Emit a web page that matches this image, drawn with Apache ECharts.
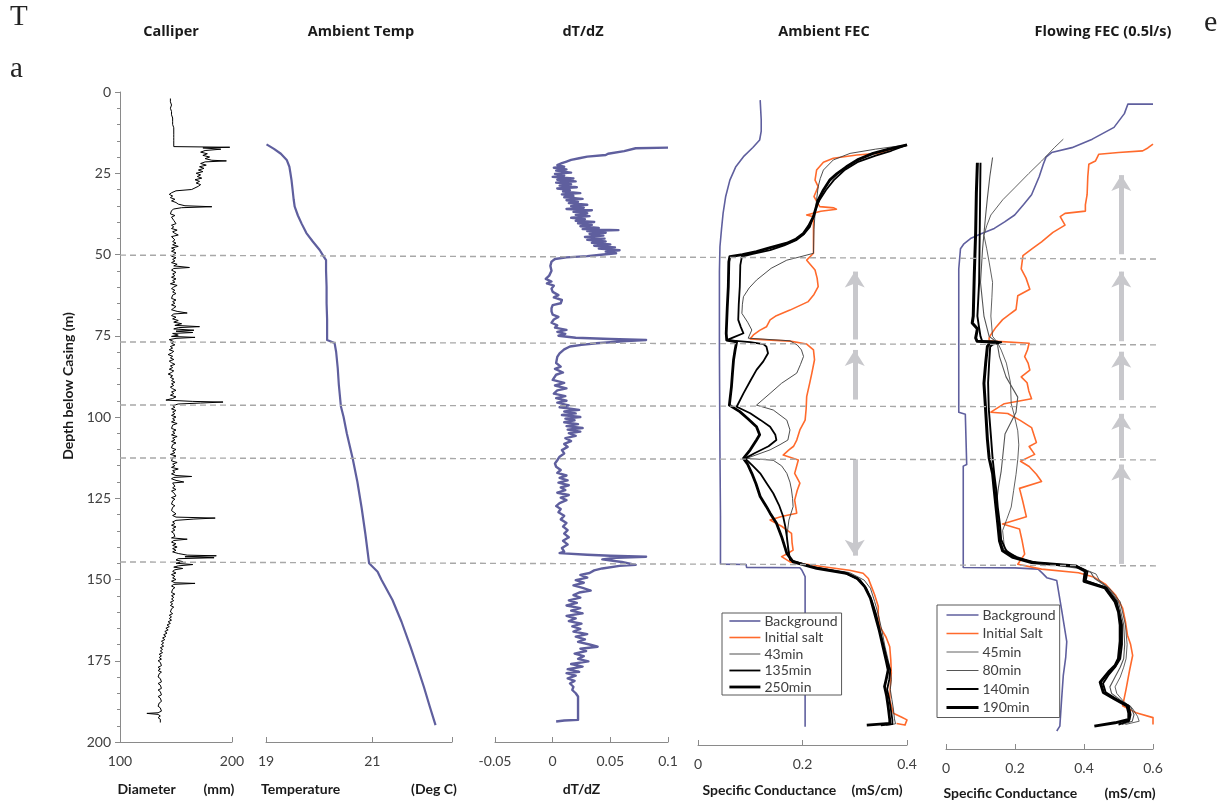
<!DOCTYPE html>
<html>
<head>
<meta charset="utf-8">
<title>Borehole logs</title>
<script src="https://cdn.jsdelivr.net/npm/echarts@6/dist/echarts.min.js"></script>
<style>
  html, body { margin: 0; padding: 0; background: #ffffff; }
  #chart { width: 1227px; height: 805px; }
</style>
</head>
<body>
<div id="chart"></div>
<script>
// ---- Log data: [depth (m), value] pairs ----
const calliper = [
[2,145],[3,145],[4,146],[5,145],[6,146],[7,146],[8,147],[9,147],[10,147],[11,148],[12,148],[13,148],[14,148],[15,148],[16,148],[16.8,148],[17.0,198],[17.2,174],[17.6,190],[18.0,176],[18.5,172],[19.0,178],[19.5,174],[20.0,180],[20.5,176],[21.0,182],[21.2,195],[21.5,176],[22.0,172],[22.5,177],[23.0,171],[23.5,175],[24.0,170],[24.5,174],[25.0,168],[25.5,172],[26.0,169],[26.5,173],[27.0,167],[27.5,171],[28.0,168],[28.5,172],[29.0,170],[29.5,171],[30.0,164],[30.4,150],[31.0,146],[31.5,144],[32.0,147],[32.5,145],[33.0,149],[33.5,146],[34.0,150],[34.5,152],[35.0,158],[35.3,182],[35.6,155],[36.0,148],[36.5,146],[37.0,147],[37.5,145],[38.0,149],[38.5,146],[39.0,145],[39.5,148],[40.0,147],[40.5,150],[41.0,146],[41.5,148],[42.0,146],[42.5,151],[43.0,147],[43.5,149],[44.0,152],[44.5,146],[45.0,145],[45.5,149],[46.0,147],[46.5,150],[47.0,147],[47.5,152],[48.0,146],[48.5,149],[49.0,146],[49.5,150],[50.0,148],[50.5,146],[51.0,150],[51.5,147],[52.0,149],[52.5,146],[53.0,151],[53.5,148],[54.0,162],[54.3,148],[54.8,146],[55.5,150],[56.0,147],[56.5,149],[57.0,146],[57.5,150],[58.0,147],[58.5,149],[59.0,145],[59.5,151],[60.0,148],[60.5,146],[61.0,149],[61.5,147],[62.0,150],[62.5,147],[63.0,148],[63.5,146],[64.0,150],[64.5,147],[65.0,149],[65.5,146],[66.0,150],[66.5,148],[67.0,146],[67.5,151],[68.0,160],[68.3,148],[68.8,146],[69.3,150],[69.8,147],[70.3,152],[70.8,148],[71.3,155],[71.8,149],[72.2,171],[72.5,152],[72.9,148],[73.3,166],[73.6,150],[74.0,165],[74.3,147],[74.8,152],[75.2,146],[75.5,167],[75.8,150],[76.2,144],[76.8,148],[77.3,146],[77.8,149],[78.3,145],[78.8,147],[79.3,144],[79.8,148],[80.3,146],[80.8,143],[81.3,147],[81.8,145],[82.3,148],[82.8,144],[83.3,146],[83.8,149],[84.3,145],[84.8,147],[85.3,144],[85.8,148],[86.3,146],[86.8,143],[87.3,147],[87.8,145],[88.3,148],[88.8,146],[89.3,149],[89.8,146],[90.3,148],[90.8,145],[91.3,147],[91.8,150],[92.3,146],[92.8,148],[93.3,145],[93.8,150],[94.3,147],[94.8,141],[95.2,165],[95.4,192],[95.7,172],[96.0,152],[96.5,147],[97.0,149],[97.5,146],[98.0,150],[98.5,147],[99.0,149],[99.5,146],[100.0,150],[100.5,147],[101.0,149],[101.5,146],[102.0,151],[102.5,147],[103.0,148],[103.5,146],[104.0,150],[104.5,147],[105.0,149],[105.5,146],[106.0,151],[106.5,147],[107.0,149],[107.5,146],[108.0,150],[108.5,147],[109.0,148],[109.5,146],[110.0,150],[110.5,147],[111.0,149],[111.5,145],[112.0,150],[112.5,147],[113.0,148],[113.5,146],[114.0,151],[114.5,147],[115.0,149],[115.5,146],[116.0,152],[116.5,147],[117.0,149],[117.5,146],[118.0,150],[118.3,164],[118.6,148],[119.0,146],[119.5,150],[120.0,157],[120.3,147],[120.8,146],[121.3,149],[121.8,147],[122.3,150],[122.8,146],[123.3,148],[123.8,147],[124.3,150],[124.8,146],[125.3,149],[125.8,147],[126.3,148],[126.8,146],[127.3,149],[127.8,147],[128.3,148],[128.8,146],[129.3,147],[129.8,150],[130.3,147],[130.8,150],[131.1,185],[131.4,166],[131.8,150],[132.3,147],[132.8,149],[133.3,146],[133.8,150],[134.3,147],[134.8,149],[135.3,146],[135.8,148],[136.3,147],[136.8,149],[137.2,146],[137.6,160],[138.0,148],[138.5,146],[139.0,150],[139.5,147],[140.0,151],[140.5,147],[141.0,150],[141.5,147],[142.0,152],[142.5,160],[142.7,186],[143.0,158],[143.3,184],[143.6,152],[144.0,150],[144.5,156],[145.0,150],[145.4,165],[145.8,152],[146.2,148],[146.6,156],[147.0,149],[147.5,147],[148.0,150],[148.5,146],[149.0,149],[149.5,147],[150.0,150],[150.5,146],[151.0,149],[151.2,167],[151.5,148],[152.0,146],[152.5,149],[153.0,147],[153.5,148],[154.0,146],[154.5,149],[155.0,146],[155.5,148],[156.0,146],[156.5,148],[157.0,145],[157.5,147],[158.0,145],[158.5,148],[159.0,146],[159.5,147],[160.0,145],[160.5,147],[161.0,144],[161.5,146],[162.0,144],[162.5,146],[163.0,143],[163.5,145],[164.0,142],[164.5,144],[165.0,141],[165.5,143],[166.0,140],[166.5,142],[167.0,139],[167.5,141],[168.0,138],[168.5,140],[169.0,137],[169.5,139],[170.0,137],[170.5,139],[171.0,136],[171.5,138],[172.0,136],[172.5,138],[173.0,135],[173.5,137],[174.0,135],[174.5,137],[175.0,134],[175.5,136],[176.0,135],[176.5,137],[177.0,134],[177.5,136],[178.0,134],[178.5,137],[179.0,135],[179.5,136],[180.0,134],[180.5,136],[181.0,135],[181.5,137],[182.0,134],[182.5,136],[183.0,135],[183.5,137],[184.0,134],[184.5,136],[185.0,135],[185.5,137],[186.0,134],[186.5,136],[187.0,135],[187.5,137],[188.0,135],[188.5,136],[189.0,134],[189.5,136],[190.0,135],[190.5,137],[191.0,134],[191.2,124],[191.5,134],[192.0,136],[192.5,134],[193.0,136],[193.5,135],[194.0,136]
];

const ambientTemp = [
[16.1,19.01],[17.5,19.15],[19,19.28],[20.9,19.39],[23,19.44],[25,19.46],[27.1,19.48],[30,19.50],[33,19.52],[35.3,19.54],[38,19.60],[40.5,19.67],[43.4,19.76],[46,19.88],[48.6,20.01],[50.5,20.08],[51.7,20.13],[55,20.13],[60,20.14],[65,20.14],[70,20.15],[76.3,20.15],[77.2,20.29],[80,20.32],[85,20.35],[90,20.37],[96.8,20.41],[100,20.46],[105,20.52],[112.7,20.63],[120,20.72],[128,20.80],[136,20.87],[145,20.94],[147.6,21.10],[150,21.17],[156.3,21.38],[163,21.55],[170.7,21.72],[177,21.85],[183,21.97],[189,22.08],[194.8,22.19]
];

const dTdZ = [
[17.1,0.100],[17.3,0.072],[17.8,0.071],[18.2,0.062],[18.7,0.061],[19.0,0.048],[19.4,0.046],[19.9,0.030],[20.4,0.023],[20.9,0.016],[21.4,0.012],[21.9,0.008],[22.5,0.004],[23.0,0.010],[23.3,0.001],[23.8,0.012],[24.2,0.003],[24.8,0.016],[25.2,0.002],[25.7,0.010],[26.1,0.000],[26.6,0.018],[27.0,0.004],[27.5,0.020],[27.9,0.003],[28.4,0.016],[28.8,0.006],[29.3,0.021],[29.7,0.004],[30.2,0.015],[30.6,0.009],[31.1,0.024],[31.5,0.008],[32.0,0.018],[32.4,0.010],[32.9,0.026],[33.3,0.012],[33.8,0.022],[34.2,0.014],[34.7,0.030],[35.1,0.016],[35.6,0.027],[36.0,0.012],[36.4,0.034],[36.9,0.018],[37.3,0.030],[37.8,0.020],[38.2,0.032],[38.7,0.016],[39.1,0.028],[39.6,0.020],[40.0,0.036],[40.4,0.022],[40.9,0.034],[41.3,0.024],[41.8,0.040],[42.2,0.026],[42.5,0.057],[42.8,0.030],[43.3,0.046],[43.7,0.032],[44.2,0.044],[44.6,0.028],[45.1,0.045],[45.5,0.030],[46.0,0.046],[46.4,0.034],[46.9,0.050],[47.3,0.036],[47.8,0.054],[48.2,0.040],[48.7,0.058],[49.1,0.046],[49.6,0.055],[50.0,0.044],[50.5,0.030],[50.9,0.012],[51.4,0.002],[52.2,-0.001],[53.5,-0.002],[55,-0.001],[56.5,-0.003],[57.5,-0.006],[58.3,-0.001],[58.9,-0.005],[59.6,0.001],[60.5,-0.001],[61.5,0.000],[62.5,0.005],[63.2,0.001],[64.0,0.008],[65.0,0.007],[65.6,0.000],[66.5,-0.001],[67.5,-0.001],[68.5,0.000],[69.2,0.005],[70.0,0.001],[71.0,-0.001],[71.8,0.004],[72.5,0.002],[73.2,0.012],[73.8,0.004],[74.4,0.011],[75.0,0.005],[75.6,0.020],[76.0,0.050],[76.3,0.081],[76.6,0.064],[77.0,0.050],[77.3,0.038],[77.8,0.025],[78.3,0.015],[79.2,0.010],[80.4,0.006],[81.5,0.004],[83.4,0.003],[84.5,0.007],[85.2,0.002],[86.3,0.009],[87.0,0.003],[88.6,0.000],[89.5,0.010],[90.3,0.002],[91.2,0.012],[91.8,0.004],[92.8,0.001],[93.6,0.011],[94.2,0.003],[95.0,0.012],[95.6,0.004],[96.4,0.014],[97.0,0.006],[97.8,0.023],[98.3,0.010],[98.9,0.020],[99.4,0.008],[100.0,0.024],[100.5,0.011],[101.0,0.019],[101.6,0.010],[102.2,0.022],[102.8,0.012],[103.4,0.026],[103.9,0.013],[104.5,0.024],[105.0,0.014],[105.8,0.020],[106.5,0.011],[107.4,0.016],[108.3,0.010],[109.2,0.013],[110.2,0.008],[111.2,0.010],[112.2,0.006],[113.3,0.004],[114.3,0.002],[115.3,0.003],[116.3,0.007],[117.2,0.004],[118.0,0.012],[118.7,0.006],[119.5,0.013],[120.2,0.005],[121.0,0.014],[121.7,0.007],[122.5,0.011],[123.3,0.004],[124.0,0.014],[124.8,0.007],[125.6,0.012],[126.5,0.006],[127.4,0.003],[128.3,0.007],[129.3,0.005],[130.4,0.010],[131.5,0.007],[132.6,0.012],[133.7,0.009],[134.8,0.013],[135.9,0.010],[137.0,0.014],[138.1,0.009],[139.2,0.013],[140.3,0.008],[141.4,0.010],[141.9,0.006],[142.4,0.030],[142.7,0.050],[143.0,0.081],[143.3,0.055],[143.8,0.043],[144.6,0.060],[145.5,0.072],[145.8,0.058],[146.6,0.043],[147.2,0.036],[148.0,0.032],[148.6,0.024],[149.4,0.030],[150.2,0.020],[151.0,0.027],[151.8,0.018],[152.6,0.026],[153.4,0.033],[154.0,0.023],[154.8,0.018],[155.6,0.024],[156.4,0.014],[157.2,0.021],[158.0,0.012],[158.8,0.024],[159.6,0.016],[160.4,0.026],[161.2,0.012],[162.0,0.020],[162.8,0.014],[163.6,0.025],[164.4,0.017],[165.2,0.024],[166.0,0.018],[166.8,0.030],[167.6,0.020],[168.4,0.028],[169.2,0.022],[170.0,0.032],[170.7,0.039],[171.3,0.024],[172.0,0.029],[172.8,0.019],[173.6,0.027],[174.4,0.022],[175.2,0.031],[176.0,0.016],[176.8,0.026],[177.6,0.013],[178.4,0.023],[178.8,0.012],[179.6,0.020],[180.4,0.013],[181.2,0.019],[182.0,0.015],[183.0,0.018],[184.0,0.017],[185.0,0.020],[186.0,0.022],[193.2,0.022],[193.4,0.010],[193.7,0.003]
];

// Ambient fluid electrical conductivity (mS/cm)
const ambBackground = [
[2.5,0.119],[8.6,0.121],[12,0.121],[14.7,0.118],[17,0.105],[19.8,0.087],[23,0.072],[27,0.061],[32,0.053],[37.2,0.048],[42,0.045],[47.4,0.042],[55,0.041],[80,0.041],[110,0.042],[130,0.043],[144.6,0.043],[144.7,0.092],[145.6,0.093],[145.7,0.195],[146.5,0.199],[148.4,0.205],[194.4,0.205]
];
const ambSalt = [
[16.2,0.400],[17.5,0.370],[18.8,0.345],[19.3,0.304],[20.3,0.259],[21.5,0.240],[23.9,0.227],[27,0.224],[29,0.230],[32,0.222],[35.1,0.233],[35.5,0.260],[35.9,0.265],[36.5,0.235],[37.7,0.208],[38.2,0.221],[49.4,0.221],[51.5,0.208],[54.5,0.224],[57,0.228],[59.6,0.230],[62,0.222],[64.2,0.211],[66.8,0.176],[68.5,0.150],[69.8,0.138],[71.9,0.131],[73,0.118],[74.4,0.106],[75.6,0.100],[76.0,0.140],[76.3,0.176],[77.2,0.208],[79,0.221],[82,0.223],[86,0.218],[89,0.214],[93.3,0.208],[97,0.207],[100.5,0.205],[103.5,0.195],[106.6,0.189],[108.5,0.183],[109.6,0.174],[111.2,0.163],[112.7,0.192],[116.8,0.185],[119.8,0.195],[122,0.190],[125,0.185],[129,0.189],[130,0.160],[131.1,0.138],[133,0.160],[135.2,0.179],[138,0.180],[140.3,0.182],[141.5,0.170],[142.3,0.160],[142.8,0.158],[143.9,0.176],[145.4,0.240],[146.5,0.290],[147.4,0.316],[149,0.326],[151.5,0.332],[154,0.338],[157.6,0.345],[160,0.345],[163.7,0.348],[167,0.360],[169.9,0.367],[174,0.369],[178,0.370],[182,0.368],[186.2,0.367],[190.3,0.374],[191.5,0.390],[192.3,0.400],[193.9,0.396],[193.4,0.380]
];
const amb43 = [
[16.2,0.400],[17.5,0.340],[18.8,0.291],[20.8,0.259],[23.9,0.240],[26.5,0.234],[29,0.230],[33,0.227],[37.2,0.224],[42,0.222],[49.4,0.221],[50.5,0.195],[51.5,0.170],[54,0.140],[57.6,0.112],[60,0.098],[62.7,0.087],[65,0.085],[67.8,0.084],[70.5,0.095],[72.9,0.103],[75.4,0.096],[76.2,0.176],[77.5,0.190],[79,0.198],[81,0.202],[83.5,0.196],[86.1,0.189],[89.2,0.160],[92.3,0.138],[95.9,0.112],[97.4,0.144],[100.5,0.170],[103.5,0.176],[106.6,0.172],[108,0.157],[109.6,0.138],[112.2,0.093],[112.8,0.144],[114.5,0.160],[116.8,0.170],[119.5,0.176],[121.9,0.179],[124.5,0.181],[127,0.182],[131.1,0.174],[136.2,0.170],[140,0.172],[143.3,0.176],[145.5,0.225],[147.2,0.290],[149.5,0.318],[152,0.330],[156,0.338],[160,0.345],[165,0.352],[170,0.358],[174,0.364],[177,0.368],[180,0.370],[183,0.368],[186,0.371],[189,0.374],[192,0.376],[193.5,0.378],[194,0.360]
];
const amb135 = [
[16.2,0.400],[18,0.370],[19.5,0.340],[21.5,0.305],[24,0.280],[27,0.260],[30,0.245],[33,0.233],[35.1,0.227],[38,0.221],[41.3,0.214],[43.5,0.203],[45.3,0.189],[47,0.165],[48.4,0.138],[49.6,0.105],[50.4,0.084],[53,0.081],[59.6,0.080],[65,0.078],[69.8,0.077],[72,0.082],[73.9,0.087],[75,0.070],[76,0.055],[76.6,0.100],[77.2,0.125],[78,0.131],[80,0.134],[82.5,0.125],[85.1,0.112],[88.5,0.100],[92.3,0.087],[96.4,0.074],[98.4,0.100],[100.5,0.120],[102.5,0.138],[105,0.148],[106.6,0.150],[108.5,0.135],[110.5,0.110],[112.2,0.090],[114.5,0.105],[116.8,0.119],[120,0.132],[122.9,0.144],[126.5,0.155],[130,0.163],[133,0.167],[136.2,0.170],[140,0.173],[143.3,0.176],[145.5,0.220],[147.2,0.280],[149.5,0.310],[152,0.322],[156,0.333],[160,0.341],[165,0.348],[170,0.356],[174,0.362],[177,0.368],[180,0.366],[183,0.362],[186,0.366],[189,0.369],[192.3,0.372],[193.6,0.372],[194,0.350]
];
const amb250 = [
[16.2,0.400],[17.5,0.365],[18.8,0.335],[20.8,0.305],[22.9,0.284],[25,0.266],[27,0.252],[30,0.240],[33.1,0.230],[38.2,0.221],[41,0.212],[43.3,0.202],[45,0.188],[46.3,0.170],[47.8,0.135],[48.9,0.112],[49.8,0.085],[50.4,0.061],[52,0.059],[59.6,0.058],[66,0.056],[73.9,0.054],[76.0,0.055],[76.5,0.074],[79,0.071],[82.1,0.068],[86,0.066],[90.3,0.064],[95.9,0.060],[97.9,0.080],[100,0.095],[102.5,0.112],[105,0.118],[106.6,0.112],[109.6,0.100],[112.2,0.087],[114,0.095],[116.8,0.103],[120,0.111],[123.9,0.119],[127,0.131],[129,0.138],[132,0.150],[136.2,0.160],[141.3,0.170],[143.9,0.182],[145.9,0.227],[147.4,0.284],[149,0.305],[151.5,0.319],[155,0.330],[159.7,0.338],[165,0.347],[169.9,0.354],[174,0.360],[177,0.364],[180,0.360],[182.1,0.357],[185,0.361],[188.3,0.364],[192.3,0.367],[193.4,0.367],[193.9,0.323]
];

// Flowing fluid electrical conductivity at 0.5 l/s (mS/cm)
const flBackground = [
[2.8,0.600],[2.8,0.527],[5.7,0.517],[9.9,0.487],[13.5,0.424],[16.1,0.365],[17.6,0.306],[19,0.290],[21.2,0.282],[25,0.270],[30.5,0.248],[33.5,0.225],[36.7,0.199],[38.8,0.170],[40.8,0.140],[42.5,0.100],[43.9,0.071],[45.5,0.052],[47,0.042],[53.2,0.037],[97,0.037],[97.6,0.056],[113,0.060],[113.5,0.050],[144.5,0.050],[144.6,0.200],[145,0.267],[146.3,0.280],[147.6,0.292],[148.5,0.321],[158,0.336],[167.2,0.350],[172,0.347],[177.5,0.340],[185,0.335],[193,0.330],[194.5,0.321]
];
const flSalt = [
[15,0.600],[16.2,0.585],[17.1,0.570],[17.6,0.500],[18.1,0.443],[20.2,0.433],[21.2,0.414],[25,0.411],[30.5,0.409],[33.6,0.404],[35.5,0.404],[36.2,0.345],[37.2,0.331],[39.8,0.345],[42,0.310],[44.9,0.277],[47,0.250],[49.1,0.223],[53.2,0.218],[56,0.232],[59.4,0.243],[61.4,0.208],[65.6,0.203],[67,0.185],[68.7,0.164],[71,0.145],[73.3,0.130],[74.3,0.125],[75.2,0.125],[75.9,0.241],[78,0.236],[80,0.228],[82,0.238],[84.1,0.243],[86.2,0.218],[88,0.235],[90.5,0.240],[92.9,0.248],[94.4,0.169],[97,0.130],[97.4,0.179],[99.5,0.215],[101.7,0.248],[104,0.255],[106.3,0.262],[107.5,0.241],[109.9,0.257],[112,0.216],[113.6,0.241],[116,0.262],[118.2,0.277],[120.3,0.213],[124,0.222],[129,0.233],[131.2,0.164],[132.7,0.213],[136,0.220],[140.4,0.228],[143.5,0.208],[145,0.277],[146.1,0.384],[147.5,0.430],[149.7,0.463],[153,0.492],[156.9,0.512],[161,0.520],[165.2,0.526],[168,0.535],[171.4,0.541],[176,0.532],[181.7,0.522],[186.8,0.512],[188.9,0.551],[190.4,0.600],[192.5,0.600]
];
const fl45 = [
[13.5,0.340],[16,0.315],[20.2,0.277],[24,0.240],[28.4,0.199],[32,0.165],[36.7,0.130],[40,0.118],[42.9,0.110],[47,0.118],[51.1,0.125],[57.3,0.135],[62,0.133],[67.6,0.130],[73.8,0.135],[75.8,0.150],[78,0.160],[82,0.175],[88,0.187],[94.4,0.189],[98,0.198],[102.7,0.208],[107,0.211],[111.5,0.208],[116,0.203],[121,0.196],[126,0.189],[129.5,0.177],[133.2,0.164],[136,0.167],[138.3,0.169],[140.5,0.190],[142.5,0.240],[144,0.330],[145,0.400],[146.5,0.435],[148.5,0.445],[151,0.475],[155,0.505],[162,0.520],[168,0.525],[172.4,0.522],[175,0.515],[178,0.505],[181,0.490],[183,0.495],[185.5,0.515],[187.5,0.540],[190,0.555],[191.5,0.560],[192.5,0.520]
];
const fl80 = [
[19.1,0.135],[25,0.127],[31.5,0.120],[36.7,0.115],[47,0.106],[57.3,0.100],[67.6,0.110],[73.8,0.125],[75.8,0.150],[76.9,0.150],[80,0.155],[86.2,0.174],[92.4,0.208],[97,0.203],[103.7,0.171],[111,0.164],[115,0.160],[120,0.152],[126,0.145],[131,0.150],[137.3,0.160],[139.5,0.170],[141.5,0.200],[143,0.260],[144.5,0.390],[146,0.420],[147.8,0.430],[150.7,0.470],[155,0.500],[162,0.515],[168,0.518],[172.4,0.515],[175,0.505],[178,0.490],[181,0.475],[183,0.480],[185,0.505],[187,0.535],[189.5,0.545],[191.5,0.540],[192.5,0.510]
];
const fl140 = [
[20.7,0.100],[30,0.099],[40,0.098],[57.3,0.096],[67.6,0.091],[70.5,0.095],[73.8,0.100],[75.3,0.105],[75.6,0.160],[76.3,0.135],[77,0.128],[82,0.125],[88,0.122],[96,0.124],[104,0.130],[111,0.135],[116,0.140],[121,0.146],[126,0.150],[131,0.156],[136,0.160],[139.5,0.175],[141.4,0.205],[143,0.260],[144.2,0.380],[145.8,0.410],[148.5,0.405],[150.7,0.465],[155,0.495],[162,0.510],[168,0.510],[172.4,0.505],[175,0.490],[177.5,0.470],[180,0.455],[182.7,0.463],[184.8,0.495],[186.8,0.530],[189.5,0.535],[191.5,0.530],[192.5,0.500]
];
const fl190 = [
[20.7,0.091],[30,0.088],[41.8,0.086],[55,0.082],[67.6,0.079],[69.7,0.076],[71.5,0.091],[74.3,0.086],[75.3,0.090],[75.6,0.150],[76.2,0.125],[76.9,0.120],[82,0.115],[88.2,0.110],[96.5,0.115],[105.3,0.120],[111,0.125],[115.7,0.135],[121,0.140],[126,0.145],[131,0.150],[136.3,0.155],[139.4,0.164],[141.4,0.194],[143,0.248],[144,0.375],[145.6,0.404],[147,0.402],[148.7,0.400],[150.7,0.461],[154.9,0.490],[158,0.500],[162.1,0.505],[167,0.505],[172.4,0.500],[174.5,0.490],[176.5,0.471],[179.6,0.447],[182.7,0.456],[184.8,0.490],[186.8,0.525],[189,0.530],[191,0.530],[192,0.490],[193,0.430]
];

// Depths of the inflow / outflow horizons (left end, right end)
const horizonDepths = [[50.2, 51.4], [76.9, 77.8], [96.3, 96.9], [112.6, 113.2], [144.6, 145.8]];

// Flow-direction arrows: [conductance, tail depth, head depth]
const ambientArrows = [[0.30, 75.8, 55.0], [0.30, 94.2, 79.0], [0.30, 112.5, 142.0]];
const flowingArrows = [[0.508, 48.7, 24.5], [0.508, 75.3, 54.0], [0.508, 93.3, 78.5], [0.508, 111.0, 97.5], [0.508, 143.4, 113.0]];

// Axis tick values
const depthTicks = { min: 0, max: 200, step: 25 };
const legendAmbient = ['Background', 'Initial salt', '43min', '135min', '250min'];
const legendFlowing = ['Background', 'Initial Salt', '45min', '80min', '140min', '190min'];

// ---- Styling ----
const BLUE = '#5f5f9e';
const ORANGE = '#ff6a2c';
const AXIS = '#8a8a8a';
const TXT = '#404040';
const FONT = 'Lato, "Open Sans", sans-serif';
const HEAD_FONT = '"Open Sans", Lato, sans-serif';

// Panels: [left, top, width, height]
const panels = [
  [120, 92, 112, 650],
  [266, 92, 186, 650],
  [495, 92, 173, 650],
  [698, 92, 209, 653],
  [946, 95, 207, 655],
  [120, 92, 1038, 650]
];

const grids = panels.map(p => ({ left: p[0], top: p[1], width: p[2], height: p[3], containLabel: false }));

function fmt(v) { return String(+(+v).toFixed(3)); }

function xAxisFor(idx, min, max, interval, nameParts, nameWidth, nameGap) {
  return {
    type: 'value', gridIndex: idx, position: 'bottom', min, max, interval,
    axisLine: { show: true, onZero: false, lineStyle: { color: AXIS, width: 1 } },
    axisTick: { show: true, inside: true, length: 5, lineStyle: { color: AXIS } },
    axisLabel: {
      show: true, margin: 12, color: TXT, fontSize: 14, fontFamily: FONT,
      showMaxLabel: true,
      formatter: v => {
        const r = (v - min) / interval;
        return Math.abs(r - Math.round(r)) < 1e-6 ? fmt(v) : '';
      }
    },
    splitLine: { show: false },
    name: '{a|' + nameParts[0] + '}{b|' + nameParts[1] + '}',
    nameLocation: 'middle', nameGap,
    nameTextStyle: {
      rich: {
        a: { width: nameWidth, fontSize: 14, fontWeight: 'bold', color: '#1a1a1a', fontFamily: FONT, align: 'left' },
        b: { fontSize: 14, fontWeight: 'bold', color: '#1a1a1a', fontFamily: FONT }
      }
    }
  };
}

function hiddenY(idx) {
  return {
    type: 'value', gridIndex: idx, inverse: true, min: depthTicks.min, max: depthTicks.max,
    show: false, splitLine: { show: false }, axisLine: { onZero: false }
  };
}

const xAxes = [
  xAxisFor(0, 100, 200, 100, ['Diameter', '(mm)'], 86, 40),
  xAxisFor(1, 19, 22.5, 2, ['Temperature', '(Deg C)'], 150, 40),
  xAxisFor(2, -0.05, 0.1, 0.05, ['dT/dZ', ''], 0, 40),
  xAxisFor(3, 0, 0.4, 0.2, ['Specific Conductance', '(mS/cm)'], 149, 38),
  xAxisFor(4, 0, 0.6, 0.2, ['Specific Conductance', '(mS/cm)'], 161, 37),
  { type: 'value', gridIndex: 5, min: 0, max: 1, show: false, splitLine: { show: false } }
];
xAxes[2].name = 'dT/dZ';
xAxes[2].nameTextStyle = { fontSize: 14, fontWeight: 'bold', color: '#1a1a1a', fontFamily: FONT };

const yAxes = [
  {
    type: 'value', gridIndex: 0, inverse: true, min: depthTicks.min, max: depthTicks.max, interval: depthTicks.step,
    axisLine: { show: true, onZero: false, lineStyle: { color: AXIS, width: 1 } },
    axisTick: { show: true, length: 5, lineStyle: { color: AXIS } },
    minorTick: { show: true, splitNumber: 5, length: 3, lineStyle: { color: AXIS } },
    axisLabel: { color: TXT, fontSize: 14, fontFamily: FONT, margin: 9 },
    splitLine: { show: false }
  },
  hiddenY(1), hiddenY(2), hiddenY(3), hiddenY(4), hiddenY(5)
];

function logSeries(name, idx, pts, color, width, z) {
  return {
    type: 'line', name, xAxisIndex: idx, yAxisIndex: idx,
    data: pts.map(p => [p[1], p[0]]),
    symbol: 'none', showSymbol: false, silent: true, animation: false,
    lineStyle: { color, width, join: 'round' }, itemStyle: { color },
    z: z || 3
  };
}

function arrowSeries(idx, arrows) {
  return {
    type: 'line', name: 'arrows' + idx, xAxisIndex: idx, yAxisIndex: idx, data: [],
    silent: true, animation: false, z: 1,
    markLine: {
      silent: true, animation: false, symbol: ['none', 'arrow'], symbolSize: [15, 16],
      label: { show: false },
      lineStyle: { color: '#c8c8cc', width: 5, type: 'solid' },
      emphasis: { disabled: true },
      data: arrows.map(a => [{ coord: [a[0], a[1]] }, { coord: [a[0], a[2]] }])
    }
  };
}

const series = [
  logSeries('Calliper', 0, calliper, '#000000', 1),
  logSeries('Ambient Temp', 1, ambientTemp, BLUE, 2.2),
  logSeries('dT/dZ', 2, dTdZ, BLUE, 2.4),
  arrowSeries(3, ambientArrows),
  logSeries('Background', 3, ambBackground, BLUE, 1.6),
  logSeries('Initial salt', 3, ambSalt, ORANGE, 1.6),
  logSeries('43min', 3, amb43, '#3a3a3a', 0.9),
  logSeries('135min', 3, amb135, '#000000', 1.8),
  logSeries('250min', 3, amb250, '#000000', 2.8),
  arrowSeries(4, flowingArrows),
  logSeries('Background', 4, flBackground, BLUE, 1.6),
  logSeries('Initial Salt', 4, flSalt, ORANGE, 1.6),
  logSeries('45min', 4, fl45, '#3a3a3a', 0.8),
  logSeries('80min', 4, fl80, '#555555', 1.1),
  logSeries('140min', 4, fl140, '#000000', 1.9),
  logSeries('190min', 4, fl190, '#000000', 3),
  {
    type: 'line', name: 'horizons', xAxisIndex: 5, yAxisIndex: 5, silent: true, animation: false, z: 1,
    data: [], symbol: 'none',
    markLine: {
      silent: true, animation: false, symbol: ['none', 'none'], label: { show: false },
      lineStyle: { color: '#a8a8a8', width: 1.4, type: [6, 4] },
      data: horizonDepths.map(h => [{ coord: [0, h[0]] }, { coord: [1, h[1]] }])
    }
  }
];

function legendBox(data, left, top, itemGap, padding, itemWidth) {
  return {
    data, orient: 'vertical', left, top, itemGap, padding, itemWidth, itemHeight: 14,
    selectedMode: false, backgroundColor: '#ffffff', borderColor: '#595959', borderWidth: 1, borderRadius: 0,
    z: 20, textStyle: { fontSize: 14, color: TXT, fontFamily: FONT, padding: [0, 0, 0, -1] },
    itemStyle: { opacity: 0 },
    lineStyle: { width: 'inherit' }
  };
}

const titleY = 32;
const titles = [
  ['Calliper', 171], ['Ambient Temp', 361], ['dT/dZ', 583], ['Ambient FEC', 824], ['Flowing FEC (0.5l/s)', 1103]
];

const graphic = titles.map(t => ({
  type: 'text', x: t[1], y: titleY, silent: true,
  style: { text: t[0], fontSize: 14.5, fontWeight: 'bold', fontFamily: HEAD_FONT, fill: '#1a1a1a', align: 'center', verticalAlign: 'middle' }
})).concat([
  {
    type: 'text', x: 68, y: 386, rotation: Math.PI / 2, silent: true,
    style: { text: 'Depth below Casing (m)', fontSize: 14, fontWeight: 'bold', fontFamily: FONT, fill: '#1a1a1a', align: 'center', verticalAlign: 'middle' }
  },
  { type: 'text', x: 10, y: 32, silent: true, style: { text: 'T', fontSize: 29, fontFamily: '"Liberation Serif", serif', fill: '#222', verticalAlign: 'bottom' } },
  { type: 'text', x: 10, y: 84, silent: true, style: { text: 'a', fontSize: 29, fontFamily: '"Liberation Serif", serif', fill: '#222', verticalAlign: 'bottom' } },
  { type: 'text', x: 1204, y: 38, silent: true, style: { text: 'e', fontSize: 30, fontFamily: '"Liberation Serif", serif', fill: '#222', verticalAlign: 'bottom' } }
]);

const chart = echarts.init(document.getElementById('chart'), null, { renderer: 'canvas', width: 1227, height: 805 });
chart.setOption({
  backgroundColor: '#ffffff',
  animation: false,
  grid: grids,
  xAxis: xAxes,
  yAxis: yAxes,
  legend: [
    legendBox(legendAmbient, 722, 613, 2.5, [1, 4, 1, 6], 31),
    legendBox(legendFlowing, 937, 605, 4.5, [3, 4, 3, 8], 32)
  ],
  tooltip: { show: false },
  graphic,
  series
});
</script>
</body>
</html>
